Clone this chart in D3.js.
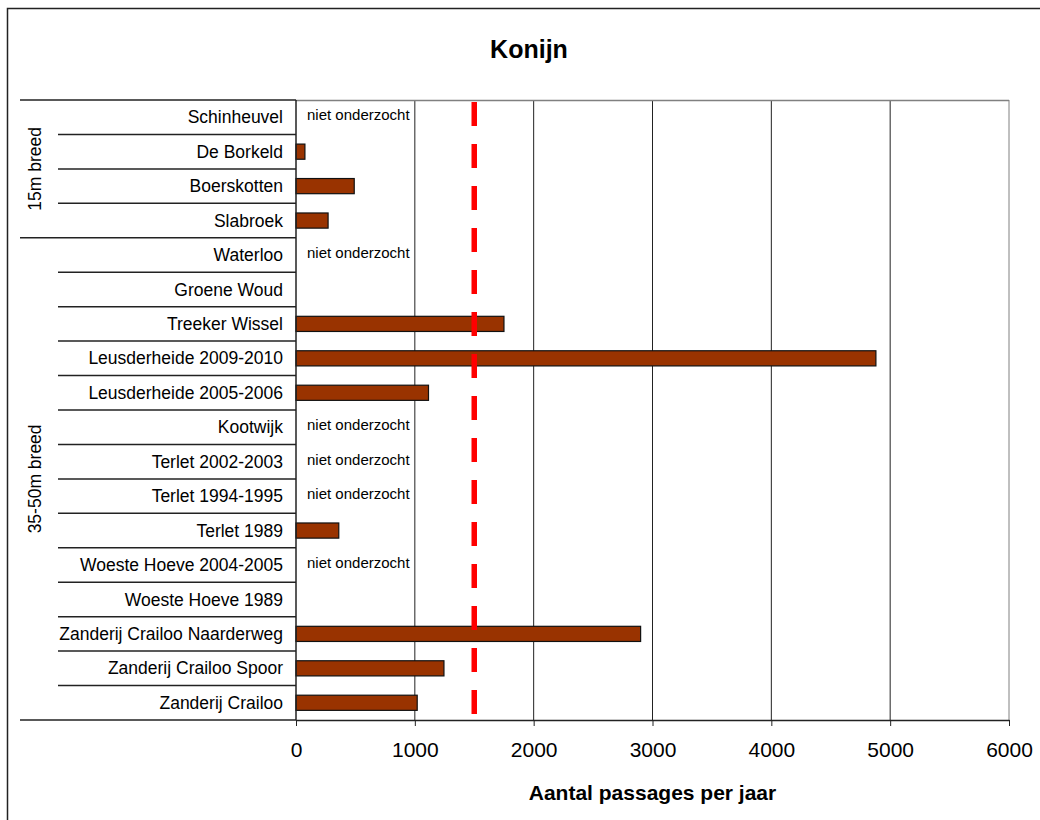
<!DOCTYPE html>
<html>
<head>
<meta charset="utf-8">
<script src="https://cdn.jsdelivr.net/npm/d3@7"></script>
<style>
  html, body { margin: 0; padding: 0; background: #fff; }
  svg { display: block; }
  text { font-family: "Liberation Sans", Arial, sans-serif; }
</style>
</head>
<body>
<svg id="chart" width="1040" height="820"></svg>
<script>
const title = "Konijn";
const xTitle = "Aantal passages per jaar";
const categories = [
  "Schinheuvel", "De Borkeld", "Boerskotten", "Slabroek",
  "Waterloo", "Groene Woud", "Treeker Wissel", "Leusderheide 2009-2010",
  "Leusderheide 2005-2006", "Kootwijk", "Terlet 2002-2003", "Terlet 1994-1995",
  "Terlet 1989", "Woeste Hoeve 2004-2005", "Woeste Hoeve 1989",
  "Zanderij Crailoo Naarderweg", "Zanderij Crailoo Spoor", "Zanderij Crailoo"
];
const values = [null, 75, 490, 270, null, null, 1750, 4880, 1115, null, null, null, 360, null, null, 2900, 1245, 1020];
const notStudied = ["Schinheuvel", "Waterloo", "Kootwijk", "Terlet 2002-2003", "Terlet 1994-1995", "Woeste Hoeve 2004-2005"];
const notStudiedLabel = "niet onderzocht";
const groupNames = ["15m breed", "35-50m breed"];
const groupSizes = [4, 14];
const xTicks = [0, 1000, 2000, 3000, 4000, 5000, 6000];
const threshold = 1500;

(function () {
const svg = d3.select("#chart");
const pLeft = 296, pRight = 1009, pTop = 100, pBottom = 720;

// outer chart border
svg.append("rect").attr("x", 7.5).attr("y", 8.5).attr("width", 1100).attr("height", 900)
  .attr("fill", "#fff").attr("stroke", "#222").attr("stroke-width", 1.5);

const x = d3.scaleLinear().domain([0, 6000]).range([pLeft, pRight]);
const y = d3.scaleBand().domain(categories).range([pTop, pBottom]);
const bw = y.bandwidth();

// title
svg.append("text").attr("x", 529).attr("y", 58).attr("text-anchor", "middle")
  .attr("font-size", 25).attr("font-weight", "bold").text(title);

// gridlines
svg.append("g").selectAll("line").data(xTicks.filter(d => d > 0)).join("line")
  .attr("x1", d => x(d)).attr("x2", d => x(d)).attr("y1", pTop).attr("y2", pBottom)
  .attr("stroke", d => d === 6000 ? "#808080" : "#222").attr("stroke-width", 1);

// plot top border
svg.append("line").attr("x1", pLeft).attr("x2", pRight).attr("y1", pTop + 0.5).attr("y2", pTop + 0.5)
  .attr("stroke", "#808080").attr("stroke-width", 1.5);

// bars
const data = categories.map((c, i) => ({ c, v: values[i] }));
svg.append("g").selectAll("rect").data(data.filter(d => d.v != null && d.v > 0)).join("rect")
  .attr("x", x(0)).attr("y", d => y(d.c) + bw * 0.28)
  .attr("width", d => x(d.v) - x(0)).attr("height", bw * 0.44)
  .attr("fill", "#993300").attr("stroke", "#111").attr("stroke-width", 1.2);

// niet onderzocht labels
svg.append("g").selectAll("text").data(notStudied).join("text")
  .attr("x", x(0) + 11).attr("y", d => y(d) + bw / 2 + 3)
  .attr("font-size", 15).text(notStudiedLabel);

// threshold line
svg.append("line").attr("x1", x(threshold)).attr("x2", x(threshold))
  .attr("y1", pTop).attr("y2", pBottom)
  .attr("stroke", "#ff0000").attr("stroke-width", 5.5)
  .attr("stroke-dasharray", "24,18").attr("stroke-dashoffset", -2);

// x axis
const xAxis = d3.axisBottom(x).tickValues(xTicks).tickFormat(d3.format("d"))
  .tickSize(6).tickSizeOuter(0).tickPadding(16);
const gx = svg.append("g").attr("transform", `translate(0,${pBottom})`).call(xAxis);
gx.select(".domain").attr("stroke", "#222").attr("stroke-width", 1.5);
gx.selectAll(".tick line").attr("stroke", "#222");
gx.selectAll(".tick text").attr("font-size", 21).attr("fill", "#000")
  .attr("font-family", "Liberation Sans, Arial, sans-serif");

svg.append("text").attr("x", (pLeft + pRight) / 2).attr("y", 800).attr("text-anchor", "middle")
  .attr("font-size", 21).attr("font-weight", "bold").text(xTitle);

// category axis line
svg.append("line").attr("x1", pLeft).attr("x2", pLeft).attr("y1", pTop).attr("y2", pBottom)
  .attr("stroke", "#222").attr("stroke-width", 1.5);

// category separators
const groupBounds = [0];
groupSizes.forEach((s, i) => groupBounds.push(groupBounds[i] + s));
const sepIdx = d3.range(0, categories.length + 1);
svg.append("g").selectAll("line").data(sepIdx).join("line")
  .attr("x1", i => groupBounds.includes(i) ? 20 : 58).attr("x2", pLeft)
  .attr("y1", i => pTop + i * bw).attr("y2", i => pTop + i * bw)
  .attr("stroke", "#222").attr("stroke-width", 1.5);

// category labels
svg.append("g").selectAll("text").data(categories).join("text")
  .attr("x", 283).attr("y", d => y(d) + bw / 2).attr("dy", "0.35em")
  .attr("text-anchor", "end").attr("font-size", 17.5).text(d => d);

// group labels
svg.append("g").selectAll("text").data(groupNames).join("text")
  .attr("transform", (d, i) => {
    const cy = pTop + (groupBounds[i] + groupBounds[i + 1]) / 2 * bw;
    return `translate(35,${cy}) rotate(-90)`;
  })
  .attr("text-anchor", "middle").attr("dy", "0.35em").attr("font-size", 17.5).text(d => d);
})();
</script>
</body>
</html>
